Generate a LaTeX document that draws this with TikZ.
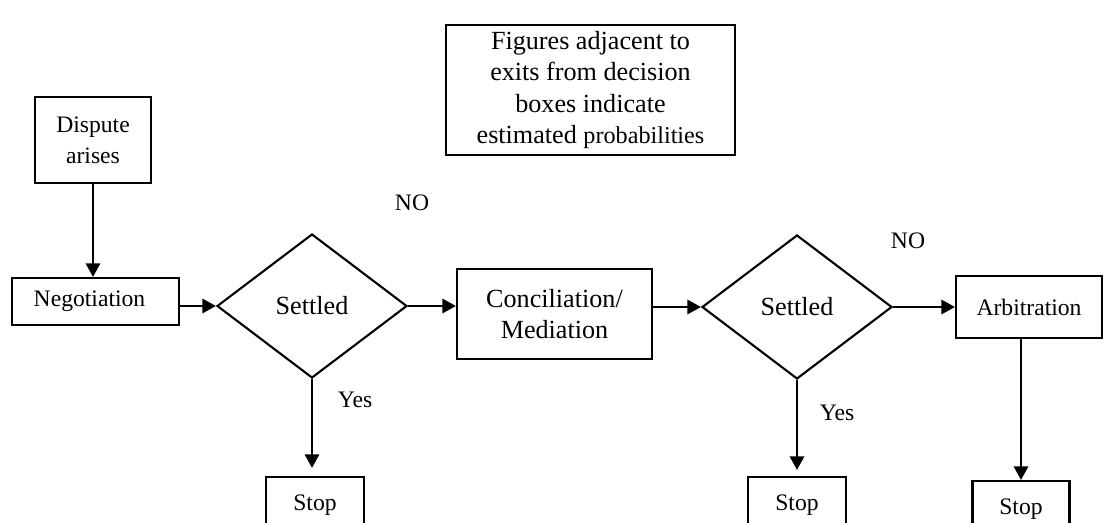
\documentclass[tikz,border=0pt]{standalone}
\usepackage{fontspec}
\setmainfont{Liberation Serif}
\usetikzlibrary{shapes.geometric,arrows.meta}
\tikzset{
  box/.style={draw, line width=1.5pt, inner sep=0pt, align=center, font=\fontsize{16.8}{22}\selectfont},
  dec/.style={draw, diamond, line width=1.5pt, inner sep=0pt, font=\fontsize{18.6}{22}\selectfont},
  lbl/.style={font=\fontsize{16.8}{22}\selectfont, inner sep=0pt},
  arr/.style={line width=1.5pt, -{Triangle[length=0.34cm,width=0.36cm]}}
}
\begin{document}
\begin{tikzpicture}[x=0.025cm,y=-0.025cm]
\useasboundingbox (0,0) rectangle (1104,523);
\clip (0,0) rectangle (1104,523);
\node[box, minimum width=289*0.025cm, minimum height=130*0.025cm, font=\fontsize{18.6}{22.5}\selectfont] (note) at (590.5,90)
  {Figures adjacent to\\exits from decision\\boxes indicate\\estimated {\fontsize{17.2}{22.5}\selectfont probabilities}};
\node[box, minimum width=116*0.025cm, minimum height=86*0.025cm] (dispute) at (93,140) {Dispute\\arises};
\node[box, minimum width=167*0.025cm, minimum height=47*0.025cm] (neg) at (95.5,301.5) {\hspace*{-0.3cm}Negotiation};
\node[dec, minimum width=190*0.025cm, minimum height=144*0.025cm] (d1) at (312,306) {Settled};
\node[box, minimum width=195*0.025cm, minimum height=90*0.025cm, font=\fontsize{18.6}{22.5}\selectfont] (conc) at (554.5,314) {Conciliation/\\Mediation};
\node[dec, minimum width=190*0.025cm, minimum height=144*0.025cm] (d2) at (797,307) {Settled};
\node[box, minimum width=146*0.025cm, minimum height=62*0.025cm] (arb) at (1029,307) {Arbitration};
\node[box, minimum width=98*0.025cm, minimum height=56*0.025cm] (stop1) at (315,505) {Stop};
\node[box, minimum width=98*0.025cm, minimum height=56*0.025cm] (stop2) at (797,505) {Stop};
\node[box, minimum width=97*0.025cm, minimum height=56*0.025cm] (stop3) at (1021,509) {Stop};
\node[lbl] (no1) at (412,203) {NO};
\node[lbl] (no2) at (908,241) {NO};
\node[lbl] (yes1) at (355,400) {Yes};
\node[lbl] (yes2) at (837,413) {Yes};
\draw[arr] (dispute.south) -- (dispute.south |- neg.north);
\draw[arr] (neg.east |- d1.west) -- (d1.west);
\draw[arr] (d1.east) -- (d1.east -| conc.west);
\draw[arr] (conc.east |- d2.west) -- (d2.west);
\draw[arr] (d2.east) -- (d2.east -| arb.west);
\draw[arr, shorten >=8*0.025cm] (d1.south) -- (d1.south |- stop1.north);
\draw[arr, shorten >=6*0.025cm] (d2.south) -- (d2.south |- stop2.north);
\draw[arr] (stop3.north |- arb.south) -- (stop3.north);
\end{tikzpicture}
\end{document}
